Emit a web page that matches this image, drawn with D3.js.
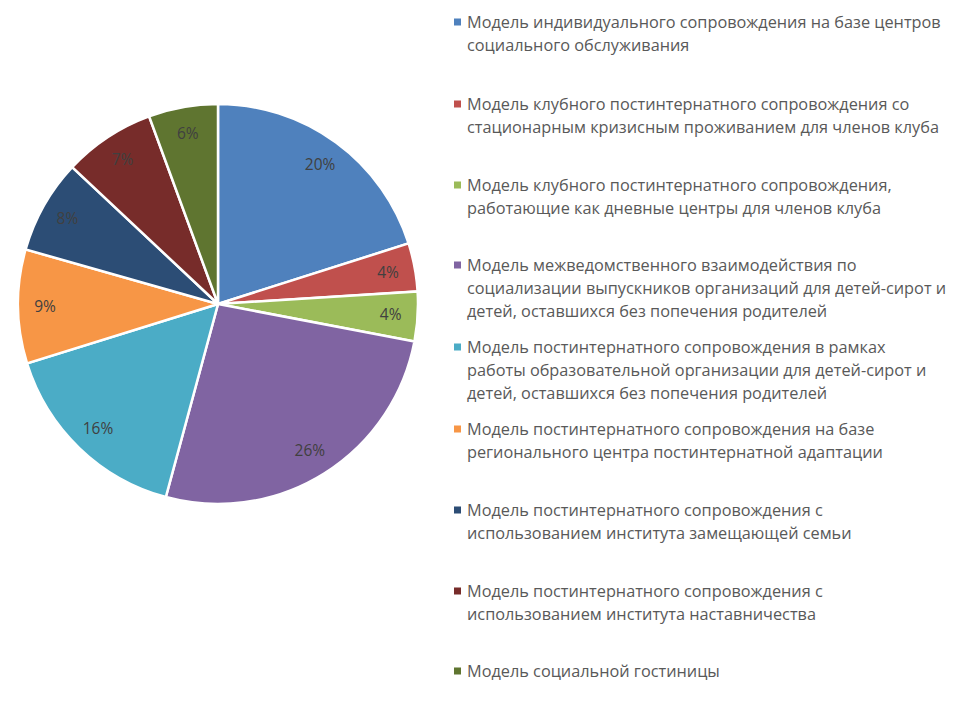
<!DOCTYPE html>
<html>
<head>
<meta charset="utf-8">
<script src="https://cdn.jsdelivr.net/npm/d3@7"></script>
<style>
  body { margin: 0; background: #fff; }
  .slice { stroke: #fff; stroke-width: 2.5px; }
  .plabel { fill: #404040; font-family: "Open Sans", sans-serif; font-size: 15.5px; }
  .legend text { fill: #595959; font-family: "Open Sans", sans-serif; font-size: 16.3px; }
</style>
</head>
<body>
<svg id="svg" width="953" height="724"></svg>
<script>
// categories (legend lines pre-wrapped like in the source)
var categories = [
  ["Модель индивидуального сопровождения на базе центров", "социального обслуживания"],
  ["Модель клубного постинтернатного сопровождения со", "стационарным кризисным проживанием для членов клуба"],
  ["Модель клубного постинтернатного сопровождения,", "работающие как дневные центры для членов клуба"],
  ["Модель межведомственного взаимодействия по", "социализации выпускников организаций для детей-сирот и", "детей, оставшихся без попечения родителей"],
  ["Модель постинтернатного сопровождения в рамках", "работы образовательной организации для детей-сирот и", "детей, оставшихся без попечения родителей"],
  ["Модель постинтернатного сопровождения на базе", "регионального центра постинтернатной адаптации"],
  ["Модель постинтернатного сопровождения с", "использованием института замещающей семьи"],
  ["Модель постинтернатного сопровождения с", "использованием института наставничества"],
  ["Модель социальной гостиницы"]
];
// shares in % (labels show them rounded)
var values = [20.1, 3.9, 4.0, 26.2, 16.0, 9.2, 7.6, 7.4, 5.6];
var colors = ["#4F81BD", "#C0504D", "#9BBB59", "#8064A2", "#4BACC6", "#F79646", "#2C4D75", "#772C2A", "#5F7530"];
// vertical position of first legend line of each entry
var legendTop = [22, 104, 185, 265, 347, 429, 510, 591, 671];

var svg = d3.select("#svg");
var cx = 218, cy = 304, R = 200;

var pie = d3.pie().sort(null).value(function(d) { return d; });
var arc = d3.arc().innerRadius(0).outerRadius(R);
var labelArc = d3.arc().innerRadius(R * 0.865).outerRadius(R * 0.865);
var arcs = pie(values);

var g = svg.append("g").attr("transform", "translate(" + cx + "," + cy + ")");
g.selectAll("path.slice")
  .data(arcs)
  .enter().append("path")
  .attr("class", "slice")
  .attr("d", arc)
  .attr("fill", function(d, i) { return colors[i]; });

g.selectAll("text.plabel")
  .data(arcs)
  .enter().append("text")
  .attr("class", "plabel")
  .attr("transform", function(d) { return "translate(" + labelArc.centroid(d) + ")"; })
  .attr("text-anchor", "middle")
  .attr("dy", "0.35em")
  .text(function(d) { return Math.round(d.data) + "%"; });

var lineH = 23.3;
var leg = svg.append("g").attr("class", "legend");
var items = leg.selectAll("g.item")
  .data(categories)
  .enter().append("g")
  .attr("class", "item")
  .attr("transform", function(d, i) { return "translate(0," + legendTop[i] + ")"; });

items.append("rect")
  .attr("x", 454).attr("y", -3.5)
  .attr("width", 7).attr("height", 7)
  .attr("fill", function(d, i) { return colors[i]; });

items.append("text")
  .attr("x", 467)
  .selectAll("tspan")
  .data(function(d) { return d; })
  .enter().append("tspan")
  .attr("x", 467)
  .attr("y", function(d, j) { return j * lineH; })
  .attr("dy", "0.35em")
  .text(function(d) { return d; });
</script>
</body>
</html>
